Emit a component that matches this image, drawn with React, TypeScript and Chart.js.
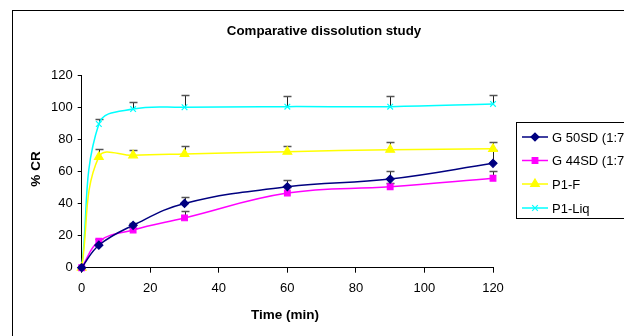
import React, { useEffect, useRef } from "react";
import { Chart, registerables } from "chart.js";
import { drawPoint } from "chart.js/helpers";

Chart.register(...registerables);

const times = [0, 5, 15, 30, 60, 90, 120];
const seriesNames = ["G 50SD (1:7)", "G 44SD (1:7)", "P1-F", "P1-Liq"];
const g50 = [0, 14, 26.4, 40, 50.4, 55.2, 65];
const g44 = [0, 16.5, 23.5, 31, 46.5, 50.4, 55.7];
const p1f = [0, 69, 70, 70.8, 72.2, 73.5, 74];
const p1liq = [0, 89.5, 98.8, 99.9, 100.3, 100.3, 102];
const g50Err = [null, null, 28, 44, 54.6, 60.2, 73];
const g44Err = [null, 18, 24.5, 35, 50, 53, 60];
const p1fErr = [null, 73.7, 73.5, 76, 75.8, 78.5, 78.5];
const p1liqErr = [null, 92.8, 103.4, 107.5, 107, 107, 107.5];
const xTicks = [0, 20, 40, 60, 80, 100, 120];
const yTicks = [0, 20, 40, 60, 80, 100, 120];

const FONT = "'Liberation Sans', Arial, sans-serif";

export default function App() {
  const ref = useRef<HTMLCanvasElement | null>(null);

  useEffect(() => {
    const canvas = ref.current;
    if (!canvas) return;
    const colors = ["#000080", "#FF00FF", "#FFFF00", "#00FFFF"];
    const styles = ["rectRot", "rect", "triangle", "crossRot"];
    const radii = [4, 4, 5, 4];
    const values = [g50, g44, p1f, p1liq];
    const errs = [g50Err, g44Err, p1fErr, p1liqErr];

    const datasets = values.map((vals, i) => ({
      label: seriesNames[i],
      data: times.map((t, j) => ({ x: t, y: vals[j] })),
      borderColor: colors[i],
      backgroundColor: colors[i],
      pointStyle: styles[i],
      pointRadius: radii[i],
      pointBorderColor: colors[i],
      pointBackgroundColor: colors[i],
      pointBorderWidth: 1.2,
      borderWidth: 1.5,
      tension: 0.4,
      fill: false,
      clip: false,
    }));

    const decor = {
      id: "decor",
      beforeDatasetsDraw(chart: any) {
        const ctx = chart.ctx;
        const xs = chart.scales.x;
        const ys = chart.scales.y;
        ctx.save();
        errs.forEach((arr, i) => {
          arr.forEach((top, j) => {
            if (top == null) return;
            const px = Math.round(xs.getPixelForValue(times[j])) + 0.5;
            const py0 = ys.getPixelForValue(values[i][j]);
            const py1 = Math.round(ys.getPixelForValue(top)) + 0.5;
            ctx.strokeStyle = "#222";
            ctx.lineWidth = 1;
            ctx.beginPath();
            ctx.moveTo(px, py0);
            ctx.lineTo(px, py1);
            ctx.stroke();
            ctx.strokeStyle = "#555";
            ctx.lineWidth = 1.5;
            ctx.beginPath();
            ctx.moveTo(px - 4, py1);
            ctx.lineTo(px + 4, py1);
            ctx.stroke();
          });
        });
        ctx.restore();
      },
      afterDraw(chart: any) {
        const ctx = chart.ctx;
        ctx.save();
        // outer frame
        ctx.strokeStyle = "#000";
        ctx.lineWidth = 1;
        ctx.strokeRect(12.5, 10.5, 700, 400);
        // title
        ctx.fillStyle = "#000";
        ctx.textAlign = "center";
        ctx.textBaseline = "middle";
        ctx.font = `bold 13.3px ${FONT}`;
        ctx.fillText("Comparative dissolution study", 324, 31.5);
        ctx.font = `bold 13.5px ${FONT}`;
        ctx.fillText("Time (min)", 285, 315);
        ctx.save();
        ctx.translate(36, 169);
        ctx.rotate(-Math.PI / 2);
        ctx.fillText("% CR", 0, 0);
        ctx.restore();
        // legend box
        ctx.strokeStyle = "#000";
        ctx.lineWidth = 1;
        ctx.strokeRect(516.5, 122.5, 200, 96);
        const ly = [137, 160.5, 184, 208];
        ctx.font = `13px ${FONT}`;
        ctx.textAlign = "left";
        seriesNames.forEach((name, i) => {
          ctx.strokeStyle = colors[i];
          ctx.fillStyle = colors[i];
          ctx.lineWidth = 1.5;
          ctx.beginPath();
          ctx.moveTo(522, ly[i]);
          ctx.lineTo(548, ly[i]);
          ctx.stroke();
          ctx.lineWidth = 1.2;
          drawPoint(ctx, { pointStyle: styles[i], radius: radii[i], borderWidth: 1.2, rotation: 0 }, 535, ly[i]);
          ctx.fillStyle = "#000";
          ctx.fillText(name, 552, ly[i] + 1);
        });
        ctx.restore();
      },
    };

    const chart = new Chart(canvas, {
      type: "line",
      data: { datasets: datasets as any },
      options: {
        animation: false,
        responsive: false,
        layout: { padding: { left: 40, right: 131, top: 75, bottom: 30 } },
        plugins: { legend: { display: false }, title: { display: false }, tooltip: { enabled: false } },
        scales: {
          x: {
            type: "linear",
            min: 0,
            max: 120,
            afterBuildTicks: (s: any) => { s.ticks = xTicks.map((v) => ({ value: v })); },
            afterFit: (s: any) => { s.height = 38.3; },
            ticks: { color: "#000", font: { family: FONT, size: 13 }, padding: 8 },
            grid: { display: true, drawOnChartArea: false, color: "#000", tickLength: 5, tickColor: "#000" },
            border: { display: true, color: "#000", width: 1 },
          },
          y: {
            type: "linear",
            min: 0,
            max: 120,
            afterBuildTicks: (s: any) => { s.ticks = yTicks.map((v) => ({ value: v })); },
            afterFit: (s: any) => { s.width = 41.7; },
            ticks: { color: "#000", font: { family: FONT, size: 13 }, padding: 5 },
            grid: { display: true, drawOnChartArea: false, color: "#000", tickLength: 4, tickColor: "#000" },
            border: { display: true, color: "#000", width: 1 },
          },
        },
      },
      plugins: [decor],
    });
    return () => chart.destroy();
  }, []);

  return (
    <div style={{ position: "fixed", left: 0, top: 0, width: 624, height: 336, background: "#fff" }}>
      <canvas ref={ref} width={624} height={336} style={{ display: "block", width: 624, height: 336 }} />
    </div>
  );
}
